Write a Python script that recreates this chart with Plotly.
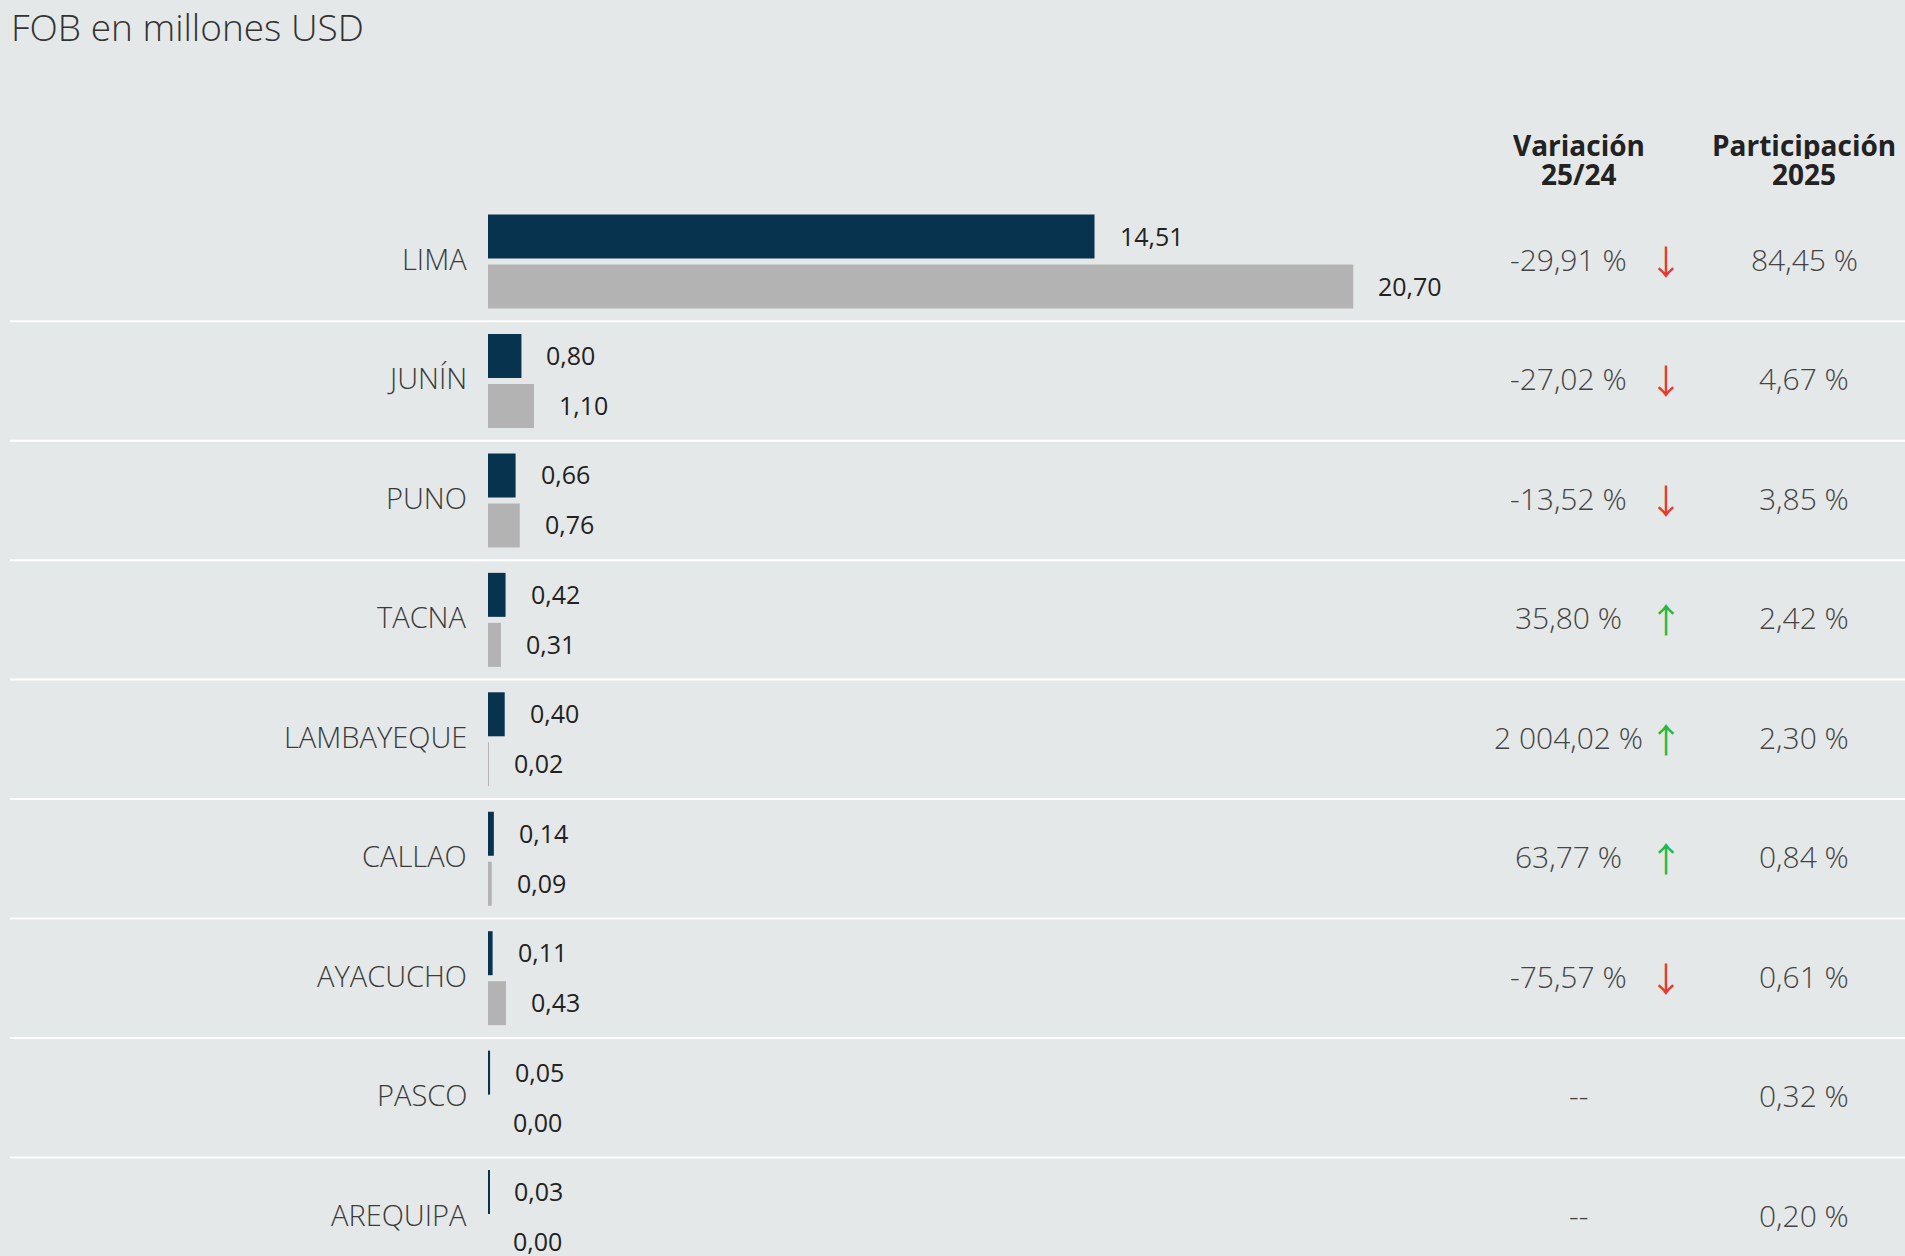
import plotly.graph_objects as go

# ---------------- data ----------------
regions = ["LIMA", "JUNÍN", "PUNO", "TACNA", "LAMBAYEQUE", "CALLAO", "AYACUCHO", "PASCO", "AREQUIPA"]
fob_2025 = [14.51, 0.80, 0.66, 0.42, 0.40, 0.14, 0.11, 0.05, 0.03]
fob_2024 = [20.70, 1.10, 0.76, 0.31, 0.02, 0.09, 0.43, 0.00, 0.00]
variacion = ["-29,91 %", "-27,02 %", "-13,52 %", "35,80 %", "2 004,02 %", "63,77 %", "-75,57 %", "--", "--"]
tendencia = ["down", "down", "down", "up", "up", "up", "down", None, None]
participacion = ["84,45 %", "4,67 %", "3,85 %", "2,42 %", "2,30 %", "0,84 %", "0,61 %", "0,32 %", "0,20 %"]
title_text = "FOB en millones USD"
header_var = ["Variación", "25/24"]
header_part = ["Participación", "2025"]

# ---------------- layout constants (pixels) ----------------
W, H = 1905, 1256
BG = "#e5e8e9"
DARK = "#08334f"
GRAY = "#b3b3b3"
X0_PX = 488.0          # pixel of value 0
PX_PER_UNIT = 41.8
ROW0_PX = 261.5        # pixel centre of first row
ROW_PX = 119.45        # row pitch
BAR_H = 44 / ROW_PX
GAP = 3 / ROW_PX
YS = 2                 # small vertical nudge for text

FONT = "Open Sans"


def px_x(p):
    return p / W


def px_y(p):
    return 1 - p / H


def fmt(v):
    return f"{v:.2f}".replace(".", ",")


ypos = [-i for i in range(len(regions))]

fig = go.Figure()
fig.add_trace(go.Bar(
    orientation="h", x=fob_2025, y=ypos, width=BAR_H, offset=GAP,
    marker=dict(color=DARK, line=dict(width=0)), name="2025", hoverinfo="skip"))
fig.add_trace(go.Bar(
    orientation="h", x=fob_2024, y=ypos, width=BAR_H, offset=-GAP - BAR_H,
    marker=dict(color=GRAY, line=dict(width=0)), name="2024", hoverinfo="skip"))

ann = []
for i, reg in enumerate(regions):
    yc = ypos[i]
    # category label
    ann.append(dict(x=0, y=yc, xref="x", yref="y", text=reg, showarrow=False,
                    xanchor="right", yanchor="middle", xshift=-19, yshift=YS + 1,
                    font=dict(family=FONT, size=29, color="#3a3a3a", weight=300)))
    # value labels
    ann.append(dict(x=fob_2025[i], y=yc + GAP + BAR_H / 2, xref="x", yref="y",
                    text=fmt(fob_2025[i]), showarrow=False, xanchor="left",
                    yanchor="middle", xshift=23, yshift=YS - 1,
                    font=dict(family=FONT, size=25, color="#222222")))
    ann.append(dict(x=fob_2024[i], y=yc - GAP - BAR_H / 2, xref="x", yref="y",
                    text=fmt(fob_2024[i]), showarrow=False, xanchor="left",
                    yanchor="middle", xshift=23, yshift=YS - 1,
                    font=dict(family=FONT, size=25, color="#222222")))
    # variation
    if tendencia[i] is None:
        ann.append(dict(x=px_x(1578), y=yc, xref="paper", yref="y", text=variacion[i],
                        showarrow=False, xanchor="center", yanchor="middle", yshift=YS,
                        font=dict(family=FONT, size=30, color="#444444", weight=300)))
    else:
        ann.append(dict(x=px_x(1568.5), y=yc, xref="paper", yref="y", text=variacion[i],
                        showarrow=False, xanchor="center", yanchor="middle", yshift=YS,
                        font=dict(family=FONT, size=30, color="#444444", weight=300)))
        arrow = "↓" if tendencia[i] == "down" else "↑"
        col = "#e53935" if tendencia[i] == "down" else "#22b846"
        ann.append(dict(x=px_x(1666), y=yc, xref="paper", yref="y", text=arrow,
                        showarrow=False, xanchor="center", yanchor="middle", yshift=1,
                        font=dict(family="Noto Sans CJK SC", size=34, color=col)))
    # participation
    ann.append(dict(x=px_x(1804), y=yc, xref="paper", yref="y", text=participacion[i],
                    showarrow=False, xanchor="center", yanchor="middle", yshift=YS,
                    font=dict(family=FONT, size=30, color="#444444", weight=300)))

# headers
for col_x, lines in ((1579, header_var), (1804, header_part)):
    for k, (ln, yc) in enumerate(zip(lines, (145.5, 174.5))):
        ann.append(dict(x=px_x(col_x), y=px_y(yc), xref="paper", yref="paper",
                        text=f"<b>{ln}</b>", showarrow=False, xanchor="center",
                        yanchor="middle", height=28,
                        font=dict(family=FONT, size=28, color="#222222")))

# title
ann.append(dict(x=px_x(9), y=px_y(27), xref="paper", yref="paper", text=title_text,
                showarrow=False, xanchor="left", yanchor="middle",
                font=dict(family=FONT, size=37, color="#333333", weight=300)))

shapes = []
for i in range(len(regions) - 1):
    shapes.append(dict(type="line", xref="paper", yref="y", x0=px_x(10), x1=1,
                       y0=ypos[i] - 0.5, y1=ypos[i] - 0.5,
                       line=dict(color="#ffffff", width=2), layer="below"))

fig.update_layout(
    width=W, height=H, margin=dict(l=0, r=0, t=0, b=0),
    paper_bgcolor=BG, plot_bgcolor=BG, showlegend=False, barmode="overlay",
    xaxis=dict(range=[-X0_PX / PX_PER_UNIT, (W - X0_PX) / PX_PER_UNIT], visible=False,
               fixedrange=True),
    yaxis=dict(range=[(ROW0_PX - H) / ROW_PX, ROW0_PX / ROW_PX], visible=False,
               fixedrange=True),
    annotations=ann, shapes=shapes,
)

fig.write_html("out.html", config={"displayModeBar": False},
               post_script="document.body.style.margin='0';")
